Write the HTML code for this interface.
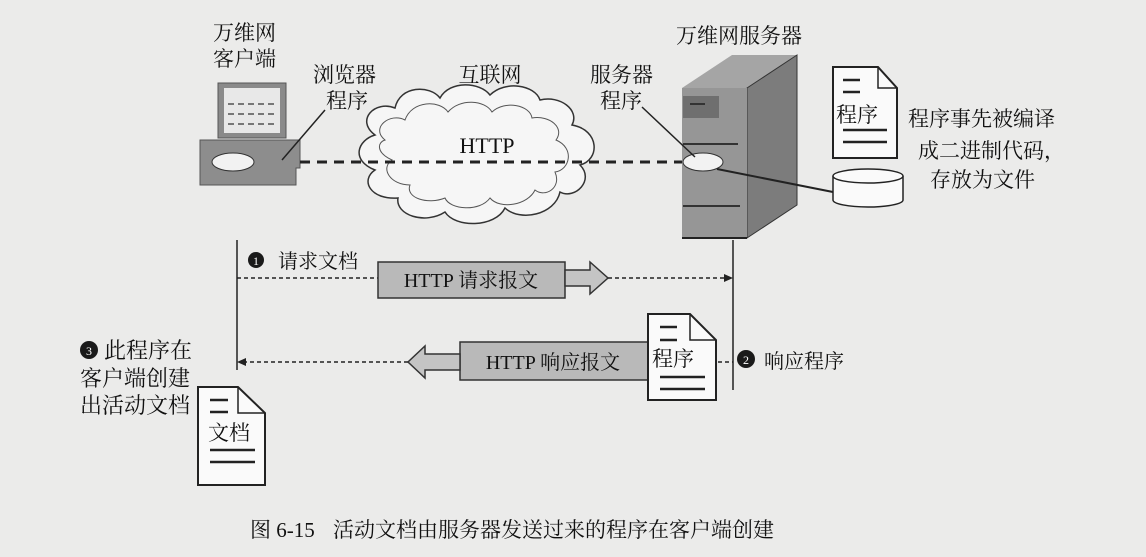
<!DOCTYPE html>
<html><head><meta charset="utf-8"><style>
html,body{margin:0;padding:0;background:#ebebea;}
svg{display:block}
text{font-family:"Liberation Serif","Noto Serif CJK SC","Noto Sans CJK SC",serif;fill:#111}
</style></head><body>
<svg width="1146" height="557" viewBox="0 0 1146 557" xmlns="http://www.w3.org/2000/svg">
<rect width="1146" height="557" fill="#ebebea"/>
<text x="213" y="40" font-size="21">万维网</text>
<text x="213" y="66" font-size="21">客户端</text>
<text x="313" y="82" font-size="21">浏览器</text>
<text x="326" y="108" font-size="21">程序</text>
<rect x="218" y="83" width="68" height="55" fill="#8a8a8a" stroke="#555"/>
<rect x="224" y="88" width="56" height="45" fill="#e8e8e8"/>
<g stroke="#777" stroke-width="2" stroke-dasharray="6,4">
<line x1="228" y1="104" x2="276" y2="104"/><line x1="228" y1="114" x2="276" y2="114"/><line x1="228" y1="124" x2="276" y2="124"/></g>
<polygon points="200,140 300,140 300,168 296,168 296,185 200,185" fill="#8d8d8d" stroke="#555"/>
<ellipse cx="233" cy="162" rx="21" ry="9" fill="#f2f2f2" stroke="#333"/>
<line x1="325" y1="110" x2="282" y2="160" stroke="#222" stroke-width="1.5"/>
<path d="M375,135 C355,120 375,100 395,108 C400,85 430,85 440,98 C450,80 480,82 490,95 C505,80 535,85 540,100 C560,95 580,110 572,125 C600,130 600,160 580,165 C595,180 575,200 560,192 C555,215 520,222 505,208 C495,228 455,228 445,212 C425,225 395,215 398,198 C370,200 360,180 375,170 C350,160 358,140 375,135 Z" fill="#f6f6f6" stroke="#333" stroke-width="1.5"/>
<path d="M385,140 C370,128 390,112 405,120 C412,100 440,100 448,112 C460,98 485,100 492,112 C505,100 530,105 532,118 C550,115 565,128 556,140 C575,148 570,170 555,172 C562,188 545,198 535,190 C528,205 500,210 490,198 C480,212 450,210 445,198 C428,205 405,198 410,185 C390,185 380,168 392,160 C375,152 378,142 385,140 Z" fill="none" stroke="#555" stroke-width="1"/>
<text x="490" y="82" font-size="21" text-anchor="middle">互联网</text>
<text x="487" y="153" font-size="22" text-anchor="middle">HTTP</text>
<line x1="300" y1="162" x2="690" y2="162" stroke="#222" stroke-width="3" stroke-dasharray="10,7"/>
<text x="590" y="82" font-size="21">服务器</text>
<text x="600" y="108" font-size="21">程序</text>
<text x="676" y="43" font-size="21">万维网服务器</text>
<polygon points="682,88 732,55 797,55 747,88" fill="#a5a5a5"/>
<polygon points="747,88 797,55 797,205 747,238" fill="#7c7c7c" stroke="#333"/>
<rect x="682" y="88" width="65" height="150" fill="#969696"/>
<line x1="682" y1="238" x2="747" y2="238" stroke="#222" stroke-width="2"/>
<rect x="683" y="96" width="36" height="22" fill="#6f6f6f"/>
<line x1="690" y1="104" x2="705" y2="104" stroke="#333" stroke-width="2"/>
<line x1="683" y1="144" x2="738" y2="144" stroke="#333" stroke-width="2"/>
<line x1="683" y1="206" x2="740" y2="206" stroke="#333" stroke-width="2"/>
<ellipse cx="703" cy="162" rx="20" ry="9" fill="#f2f2f2" stroke="#333"/>
<line x1="642" y1="107" x2="695" y2="157" stroke="#222" stroke-width="1.5"/>
<line x1="717" y1="169" x2="838" y2="193" stroke="#222" stroke-width="2"/>
<polygon points="833,67 878,67 897,88 897,158 833,158" fill="#fafafa" stroke="#222" stroke-width="2"/>
<polyline points="878,67 878,88 897,88" fill="none" stroke="#222" stroke-width="1.5"/>
<g stroke="#222" stroke-width="2.5"><line x1="843" y1="80" x2="860" y2="80"/><line x1="843" y1="92" x2="860" y2="92"/><line x1="843" y1="130" x2="887" y2="130"/><line x1="843" y1="142" x2="887" y2="142"/></g>
<text x="836" y="122" font-size="21">程序</text>
<path d="M833,176 L833,200 A35,7 0 0 0 903,200 L903,176" fill="#fafafa" stroke="#222" stroke-width="1.5"/>
<ellipse cx="868" cy="176" rx="35" ry="7" fill="#fafafa" stroke="#222" stroke-width="1.5"/>
<text x="908" y="126" font-size="21">程序事先被编译</text>
<text x="918" y="158" font-size="21">成二进制代码，</text>
<text x="930" y="187" font-size="21">存放为文件</text>
<line x1="237" y1="240" x2="237" y2="370" stroke="#222" stroke-width="1.5"/>
<line x1="733" y1="240" x2="733" y2="390" stroke="#222" stroke-width="1.5"/>
<circle cx="256" cy="260" r="8" fill="#1a1a1a"/><text x="256" y="265" font-size="12" text-anchor="middle" style="fill:#fff">1</text>
<text x="278" y="268" font-size="20">请求文档</text>
<line x1="237" y1="278" x2="378" y2="278" stroke="#222" stroke-width="1.5" stroke-dasharray="4,3"/>
<rect x="378" y="262" width="187" height="36" fill="#b9b9b9" stroke="#333" stroke-width="1.5"/>
<text x="471" y="287" font-size="20" text-anchor="middle">HTTP 请求报文</text>
<polygon points="565,270 590,270 590,262 608,278 590,294 590,286 565,286" fill="#c4c4c4" stroke="#333" stroke-width="1.5"/>
<line x1="608" y1="278" x2="728" y2="278" stroke="#222" stroke-width="1.5" stroke-dasharray="4,3"/>
<polygon points="733,278 724,274 724,282" fill="#222"/>
<rect x="460" y="342" width="190" height="38" fill="#b9b9b9" stroke="#333" stroke-width="1.5"/>
<text x="553" y="369" font-size="20" text-anchor="middle">HTTP 响应报文</text>
<polygon points="460,354 425,354 425,346 408,362 425,378 425,370 460,370" fill="#c4c4c4" stroke="#333" stroke-width="1.5"/>
<line x1="408" y1="362" x2="242" y2="362" stroke="#222" stroke-width="1.5" stroke-dasharray="4,3"/>
<polygon points="237,362 246,358 246,366" fill="#222"/>
<line x1="718" y1="362" x2="733" y2="362" stroke="#222" stroke-width="1.5" stroke-dasharray="4,3"/>
<polygon points="648,314 690,314 716,340 716,400 648,400" fill="#fafafa" stroke="#222" stroke-width="2"/>
<polyline points="690,314 690,340 716,340" fill="none" stroke="#222" stroke-width="1.5"/>
<g stroke="#222" stroke-width="2.5"><line x1="660" y1="327" x2="677" y2="327"/><line x1="660" y1="340" x2="677" y2="340"/><line x1="660" y1="377" x2="705" y2="377"/><line x1="660" y1="389" x2="705" y2="389"/></g>
<text x="652" y="366" font-size="21">程序</text>
<circle cx="746" cy="359" r="9" fill="#1a1a1a"/><text x="746" y="364" font-size="12" text-anchor="middle" style="fill:#fff">2</text>
<text x="764" y="368" font-size="20">响应程序</text>
<circle cx="89" cy="350" r="9" fill="#1a1a1a"/><text x="89" y="355" font-size="12" text-anchor="middle" style="fill:#fff">3</text>
<text x="104" y="358" font-size="22">此程序在</text>
<text x="80" y="386" font-size="22">客户端创建</text>
<text x="80" y="413" font-size="22">出活动文档</text>
<polygon points="198,387 238,387 265,413 265,485 198,485" fill="#fafafa" stroke="#222" stroke-width="2"/>
<polyline points="238,387 238,413 265,413" fill="none" stroke="#222" stroke-width="1.5"/>
<g stroke="#222" stroke-width="2.5"><line x1="210" y1="400" x2="228" y2="400"/><line x1="210" y1="412" x2="228" y2="412"/><line x1="210" y1="450" x2="255" y2="450"/><line x1="210" y1="462" x2="255" y2="462"/></g>
<text x="208" y="440" font-size="21">文档</text>
<text x="250" y="537" font-size="21">图 6-15</text>
<text x="333" y="537" font-size="21">活动文档由服务器发送过来的程序在客户端创建</text>
</svg>
</body></html>
